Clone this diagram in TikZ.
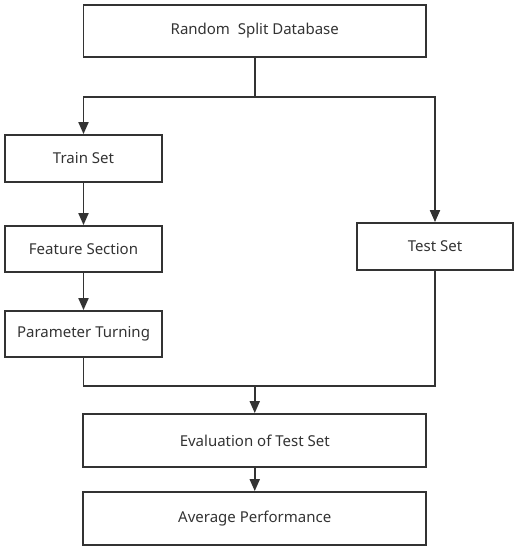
\documentclass[tikz,border=0pt]{standalone}
\usepackage{fontspec}
\setmainfont{Noto Sans}
\usepackage{xcolor}
\usepackage{tikz}
\usetikzlibrary{arrows.meta,positioning,calc}
\definecolor{linegray}{HTML}{333333}
\tikzset{
  stepbox/.style={draw=linegray, line width=1.8pt, rectangle, inner sep=0pt,
                  text=linegray, font=\fontsize{15}{18}\selectfont},
  flow/.style={draw=linegray, line width=1.8pt, -{Triangle[width=10pt,length=12pt]}},
  plain/.style={draw=linegray, line width=1.8pt}
}

\begin{document}
\begin{tikzpicture}[x=1pt, y=-1pt]
    \useasboundingbox (0,0) rectangle (518,550);
    \node[stepbox, minimum width=342.5pt, minimum height=52pt] (rsd) at (254.75,31) {Random\ \ Split Database};
    \node[stepbox, minimum width=157pt, minimum height=47pt] (train) at (83.5,158.5) {Train Set};
    \node[stepbox, minimum width=157pt, minimum height=46pt] (feat) at (83.5,249) {Feature Section};
    \node[stepbox, minimum width=157pt, minimum height=46pt] (param) at (83.5,334) {Parameter Turning};
    \node[stepbox, minimum width=156pt, minimum height=47pt] (test) at (435,246.5) {Test Set};
    \node[stepbox, minimum width=343pt, minimum height=53pt] (eval) at (254.75,440.5) {Evaluation of Test Set};
    \node[stepbox, minimum width=343pt, minimum height=53pt] (avg) at (254.75,518.5) {Average Performance};
    % split and merge points
    \coordinate (split) at ($(rsd.south)+(0,39)$);
    \coordinate (merge) at ($(eval.north)+(0,-27)$);
    \draw[plain] (rsd.south) -- (split);
    \draw[flow] (split) -| (train.north);
    \draw[flow] (split) -| (test.north);
    \draw[flow] (train) -- (feat);
    \draw[flow] (feat) -- (param);
    \draw[plain] (param.south) |- (merge);
    \draw[plain] (test.south) |- (merge);
    \draw[flow] (merge) -- (eval.north);
    \draw[flow] (eval) -- (avg);
\end{tikzpicture}
\end{document}
